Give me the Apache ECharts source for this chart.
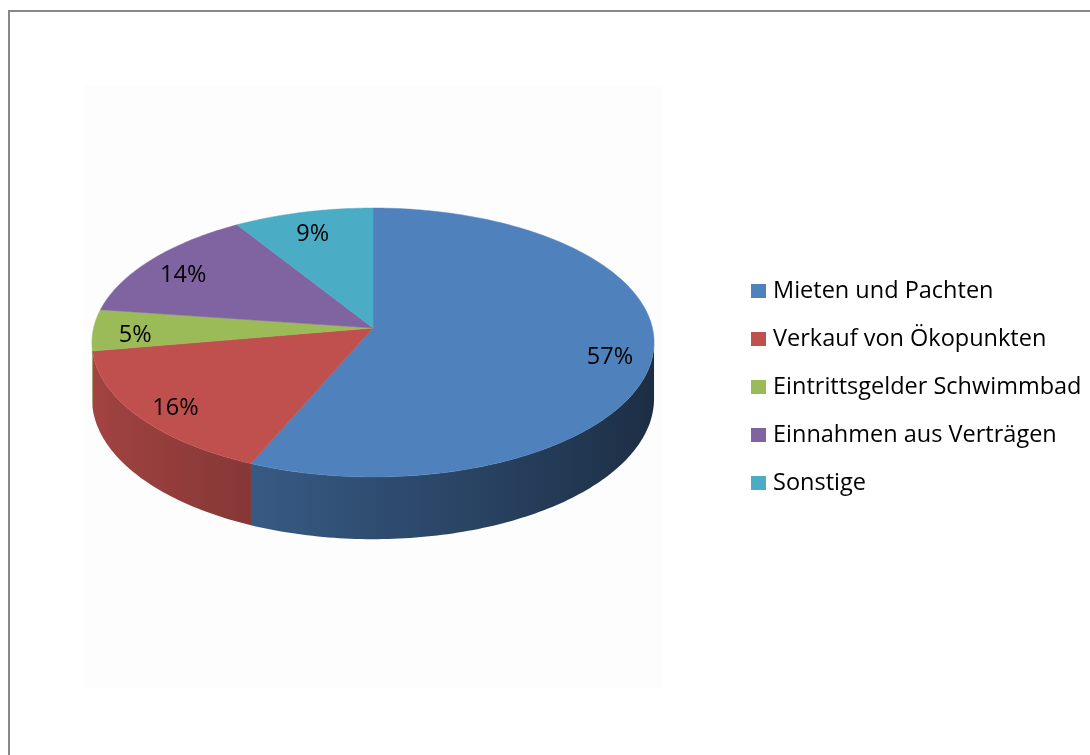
<!DOCTYPE html>
<html>
<head>
<meta charset="utf-8">
<script src="https://cdn.jsdelivr.net/npm/echarts@6.0.0/dist/echarts.min.js"></script>
<style>
  html, body { margin: 0; padding: 0; background: #fff; overflow: hidden; }
  #frame { position: absolute; left: 8px; top: 10px; width: 1200px; height: 900px;
           border-left: 2px solid #878787; border-top: 2px solid #878787; }
  #main { position: absolute; left: 0; top: 0; width: 1090px; height: 755px; }
</style>
</head>
<body>
<div id="frame"></div>
<div id="main"></div>
<script>
// data
const categories = ['Mieten und Pachten', 'Verkauf von Ökopunkten', 'Eintrittsgelder Schwimmbad', 'Einnahmen aus Verträgen', 'Sonstige']
const shares = [57, 16, 5, 14, 9]
const colors = ['#4F81BD', '#C0504D', '#9BBB59', '#8064A2', '#4BACC6']

// 3d pie geometry (screen pixels)
const CX = 373, CY = 328, RX = 279.4, RY = 132.9
const PERSP = 0.1078, DEPTH = 55.5
const LABEL_K = 0.85

const total = shares.reduce((a, b) => a + b, 0)

function project (theta, k, drop) {
  const X = k * Math.sin(theta), Z = k * Math.cos(theta)
  const w = 1 + PERSP * Z
  return [CX + RX * X / w, CY - RY * Z / w + drop / w]
}

function shade (hex, f) {
  const n = parseInt(hex.slice(1), 16)
  const r = Math.round(((n >> 16) & 255) * f)
  const g = Math.round(((n >> 8) & 255) * f)
  const b = Math.round((n & 255) * f)
  return 'rgb(' + r + ',' + g + ',' + b + ')'
}

function arc (a, b, drop) {
  const pts = []
  const steps = Math.max(2, Math.ceil((b - a) / (Math.PI / 180)))
  for (let i = 0; i <= steps; i++) pts.push(project(a + (b - a) * i / steps, 1, drop))
  return pts
}

function renderSlice (params, api) {
  const v = api.value(0), before = api.value(1), sum = api.value(2)
  const color = api.visual('color')
  const t0 = before / sum * Math.PI * 2
  const t1 = (before + v) / sum * Math.PI * 2
  const children = []

  // top face
  children.push({
    type: 'polygon', z2: 10,
    shape: { points: [[CX, CY]].concat(arc(t0, t1, 0)) },
    style: { fill: color, stroke: color, lineWidth: 0.5 }
  })

  // front wall, only the part facing the viewer
  const ts = Math.acos(-PERSP)
  const a = Math.max(t0, ts), b = Math.min(t1, Math.PI * 2 - ts)
  if (b > a) {
    const top = arc(a, b, 0)
    const bottom = arc(a, b, DEPTH).reverse()
    const xs = top.map(p => p[0])
    const xmin = Math.min.apply(null, xs), xmax = Math.max.apply(null, xs)
    const stops = []
    const n = 8
    for (let i = 0; i <= n; i++) {
      const th = a + (b - a) * i / n
      const x = project(th, 1, 0)[0]
      stops.push({ offset: xmax > xmin ? (x - xmin) / (xmax - xmin) : 0, color: shade(color, 0.6 - 0.25 * Math.sin(th)) })
    }
    stops.sort((p, q) => p.offset - q.offset)
    children.push({
      type: 'polygon', z2: 1,
      shape: { points: top.concat(bottom) },
      style: { fill: new echarts.graphic.LinearGradient(0, 0, 1, 0, stops) }
    })
  }

  // value label
  const mid = (t0 + t1) / 2
  const lp = project(mid, LABEL_K, 0)
  children.push({
    type: 'text', z2: 20,
    x: lp[0], y: lp[1] + 6,
    style: {
      text: v + '%', fill: '#000', font: '23.5px "Open Sans"',
      align: 'center', verticalAlign: 'middle'
    }
  })
  return { type: 'group', children: children }
}

let cum = 0
const series = categories.map((name, i) => {
  const item = [shares[i], cum, total]
  cum += shares[i]
  return {
    type: 'custom',
    name: name,
    coordinateSystem: 'none',
    renderItem: renderSlice,
    itemStyle: { color: colors[i] },
    data: [item]
  }
})

const chart = echarts.init(document.getElementById('main'), null, { renderer: 'canvas' })
chart.setOption({
  animation: false,
  backgroundColor: 'transparent',
  color: colors,
  graphic: [{
    type: 'rect', z: 0, left: 83, top: 85,
    shape: { width: 579, height: 603 },
    style: { fill: '#fdfdfd' }
  }],
  legend: {
    data: categories,
    orient: 'vertical',
    left: 746,
    top: 274,
    icon: 'rect',
    itemWidth: 15,
    itemHeight: 14,
    itemGap: 24,
    textStyle: { fontSize: 23.5, lineHeight: 22, color: '#000', fontFamily: '"Open Sans"', padding: [0, 0, 0, 2] }
  },
  series: series
})
</script>
</body>
</html>
